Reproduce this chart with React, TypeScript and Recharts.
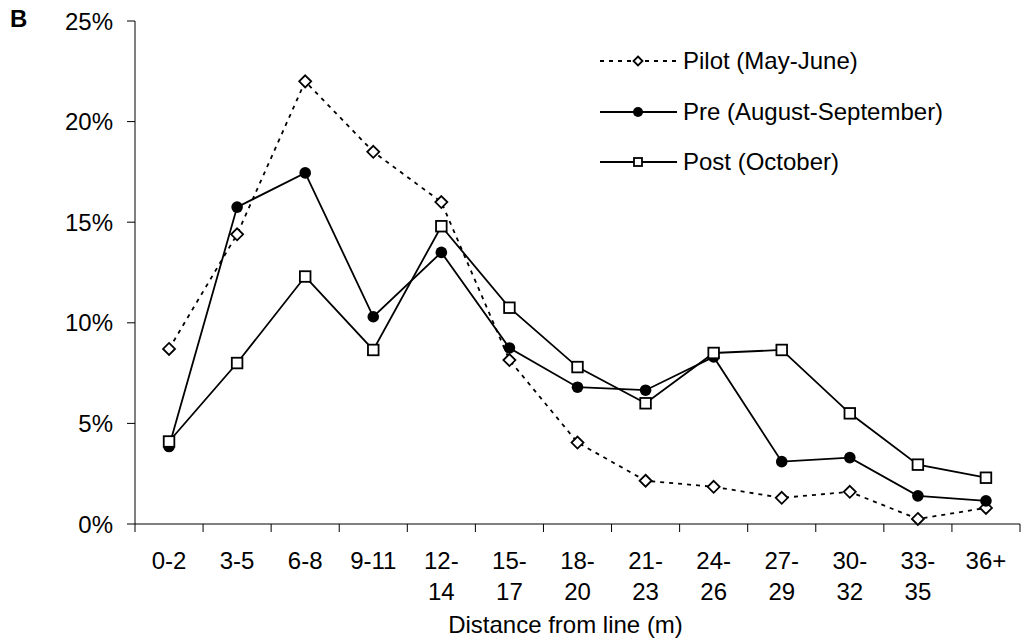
import React from 'react'
import { LineChart, Line, XAxis, YAxis } from 'recharts'

const categories = ['0-2', '3-5', '6-8', '9-11', '12-14', '15-17', '18-20', '21-23', '24-26', '27-29', '30-32', '33-35', '36+']
const pilot = [8.7, 14.4, 22.0, 18.5, 16.0, 8.15, 4.05, 2.15, 1.85, 1.3, 1.6, 0.25, 0.8]
const pre = [3.85, 15.75, 17.45, 10.3, 13.5, 8.75, 6.8, 6.65, 8.3, 3.1, 3.3, 1.4, 1.15]
const post = [4.1, 8.0, 12.3, 8.65, 14.8, 10.75, 7.8, 6.0, 8.5, 8.65, 5.5, 2.95, 2.3]
const yTicks = [0, 5, 10, 15, 20, 25]

const seriesNames = {
  pilot: 'Pilot (May-June)',
  pre: 'Pre (August-September)',
  post: 'Post (October)',
}

// each category sits in the middle of a unit-wide slot so the tick marks fall between them
const data = categories.map((label, i) => ({
  x: i + 0.5,
  label,
  pilot: pilot[i],
  pre: pre[i],
  post: post[i],
}))

const WIDTH = 1021
const HEIGHT = 643
const Y_AXIS_W = 135
const RIGHT = 1
const HALF_SLOT = (WIDTH - Y_AXIS_W - RIGHT) / categories.length / 2
const FONT = 'Arial, "Liberation Sans", sans-serif'
const INK = '#000'

const diamond = (cx: number, cy: number, s: number) => (
  <polygon
    points={`${cx},${cy - s} ${cx + s},${cy} ${cx},${cy + s} ${cx - s},${cy}`}
    fill="#fff"
    stroke={INK}
    strokeWidth={1.8}
  />
)
const circle = (cx: number, cy: number, rad: number) => <circle cx={cx} cy={cy} r={rad} fill={INK} />
const square = (cx: number, cy: number, s: number) => (
  <rect x={cx - s} y={cy - s} width={s * 2} height={s * 2} fill="#fff" stroke={INK} strokeWidth={1.8} />
)

const DiamondDot = (props: any) => (props.cx == null ? null : diamond(props.cx, props.cy, 6))
const CircleDot = (props: any) => (props.cx == null ? null : circle(props.cx, props.cy, 5.8))
const SquareDot = (props: any) => (props.cx == null ? null : square(props.cx, props.cy, 5.3))

const CategoryTick = (props: any) => {
  const { x, y, payload } = props
  const idx = payload.value
  if (idx >= categories.length) return null
  const label = categories[idx]
  const m = label.match(/^(\d+-)(\d+)$/)
  const lines = m && label.length > 4 ? [m[1], m[2]] : [label]
  return (
    <text x={x + HALF_SLOT} y={y} textAnchor="middle" fontSize={24} fontFamily={FONT} fill={INK}>
      {lines.map((ln, i) => (
        <tspan key={i} x={x + HALF_SLOT} dy={i === 0 ? 37 : 31}>
          {ln}
        </tspan>
      ))}
    </text>
  )
}

const legendRows = [
  { key: 'pilot', dash: '4 5', draw: (cx: number, cy: number) => diamond(cx, cy, 4.5) },
  { key: 'pre', dash: undefined, draw: (cx: number, cy: number) => circle(cx, cy, 5) },
  { key: 'post', dash: undefined, draw: (cx: number, cy: number) => square(cx, cy, 4) },
]

function SeriesLegend() {
  return (
    <div style={{ position: 'absolute', left: 600, top: 36, fontFamily: FONT, fontSize: 24, color: INK }}>
      {legendRows.map(row => (
        <div key={row.key} style={{ display: 'flex', alignItems: 'center', height: 50.5 }}>
          <svg width={80} height={20} style={{ marginRight: 3 }}>
            <line x1={0} y1={10} x2={77} y2={10} stroke={INK} strokeWidth={1.8} strokeDasharray={row.dash} />
            {row.draw(38, 10)}
          </svg>
          <span>{seriesNames[row.key as keyof typeof seriesNames]}</span>
        </div>
      ))}
    </div>
  )
}

export default function App() {
  return (
    <div style={{ position: 'absolute', left: 0, top: 0, width: WIDTH, height: HEIGHT, background: '#fff' }}>
      <LineChart width={WIDTH} height={HEIGHT} data={data} margin={{ top: 21, right: RIGHT, left: 0, bottom: 0 }}>
        <XAxis
          dataKey="x"
          type="number"
          domain={[0, categories.length]}
          ticks={categories.map((_, i) => i).concat(categories.length)}
          interval={0}
          height={119}
          tickSize={8}
          tickMargin={0}
          stroke={INK}
          tick={<CategoryTick />}
          label={{
            value: 'Distance from line (m)',
            position: 'insideBottom',
            offset: 10,
            dx: -12,
            fill: INK,
            fontSize: 24,
            fontFamily: FONT,
          }}
        />
        <YAxis
          type="number"
          domain={[0, 25]}
          ticks={yTicks}
          width={Y_AXIS_W}
          tickSize={8}
          tickMargin={14}
          stroke={INK}
          tickFormatter={(v: number) => `${v}%`}
          tick={{ fill: INK, fontSize: 24, fontFamily: FONT }}
        />
        <Line
          dataKey="pilot"
          name={seriesNames.pilot}
          stroke={INK}
          strokeWidth={1.8}
          strokeDasharray="4 5"
          dot={<DiamondDot />}
          activeDot={false}
          isAnimationActive={false}
        />
        <Line
          dataKey="pre"
          name={seriesNames.pre}
          stroke={INK}
          strokeWidth={1.8}
          dot={<CircleDot />}
          activeDot={false}
          isAnimationActive={false}
        />
        <Line
          dataKey="post"
          name={seriesNames.post}
          stroke={INK}
          strokeWidth={1.8}
          dot={<SquareDot />}
          activeDot={false}
          isAnimationActive={false}
        />
      </LineChart>
      <SeriesLegend />
      <div style={{ position: 'absolute', left: 10, top: 5, fontFamily: FONT, fontWeight: 'bold', fontSize: 24, color: INK }}>
        B
      </div>
    </div>
  )
}
